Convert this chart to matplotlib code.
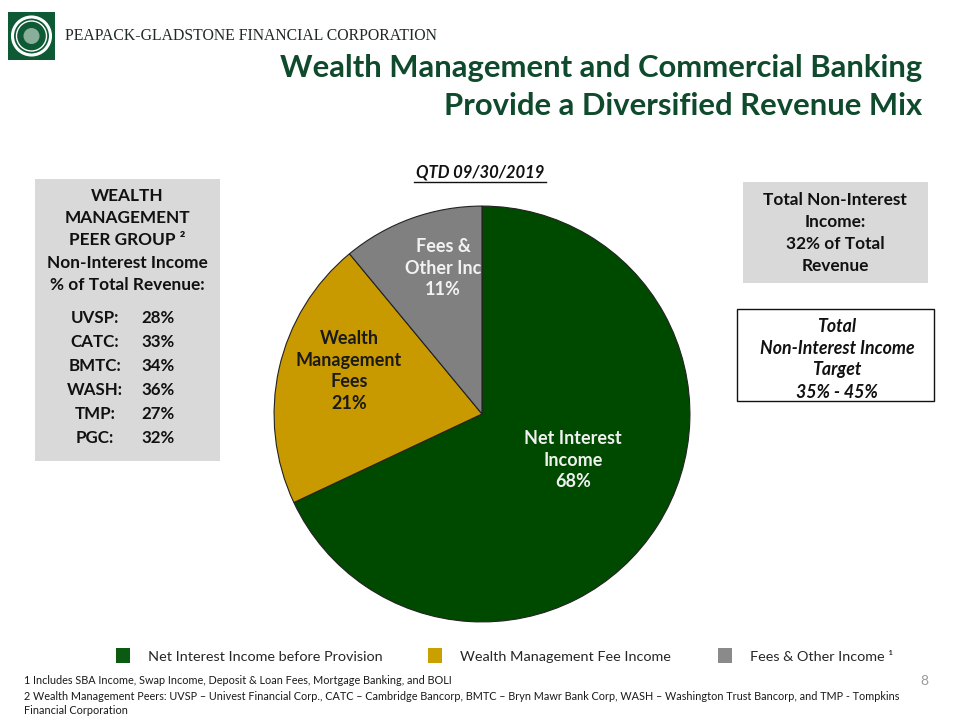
import matplotlib
matplotlib.use("Agg")
import matplotlib.pyplot as plt
from matplotlib.patches import Rectangle, Circle

# ---- data ----
slice_labels = ["Net Interest\nIncome\n68%", "Wealth\nManagement\nFees\n21%", "Fees &\nOther Inc\n11%"]
slice_values = [68, 21, 11]
slice_colors = ["#004A00", "#C99A00", "#808080"]
slice_text_colors = ["#F0F0F0", "#1A1A1A", "#F2F2F2"]
legend_labels = ["Net Interest Income before Provision", "Wealth Management Fee Income", "Fees & Other Income \u00b9"]
legend_colors = ["#0B5A12", "#C9A000", "#8A8A8A"]
peer_names = ["UVSP:", "CATC:", "BMTC:", "WASH:", "TMP:", "PGC:"]
peer_values = ["28%", "33%", "34%", "36%", "27%", "32%"]

FONT = "Lato"
plt.rcParams['font.family'] = [FONT, 'DejaVu Sans']

fig = plt.figure(figsize=(9.6, 7.2), dpi=100)
ax = fig.add_axes([0, 0, 1, 1])
ax.set_xlim(0, 960)
ax.set_ylim(720, 0)
ax.axis('off')

# ---- header / logo ----
ax.add_patch(Rectangle((8, 12), 47, 48, facecolor="#0E5A34", edgecolor="none"))
ax.add_patch(Circle((31.5, 36), 19, facecolor="none", edgecolor="white", lw=2.2))
ax.add_patch(Circle((31.5, 36), 15, facecolor="none", edgecolor="white", lw=1.0))
ax.add_patch(Circle((31.5, 36), 8, facecolor="#DDE8DF", edgecolor="none", alpha=0.6))
ax.text(65, 36, "PEAPACK-GLADSTONE FINANCIAL CORPORATION", family="Liberation Serif",
        fontsize=11.3, color="#1E2A22", ha="left", va="center")

title_color = "#0F4A2C"
ax.text(922, 68, "Wealth Management and Commercial Banking", fontsize=22.3, fontweight="bold",
        color=title_color, ha="right", va="center")
ax.text(922, 106, "Provide a Diversified Revenue Mix", fontsize=22.3, fontweight="bold",
        color=title_color, ha="right", va="center")

# ---- subtitle ----
ax.text(480, 172, "QTD 09/30/2019", fontsize=12, fontweight="bold", fontstyle="italic",
        color="#111111", ha="center", va="center")
ax.plot([414, 546], [182, 182], color="#111111", lw=1.0)

# ---- pie ----
pax = fig.add_axes([272 / 960, (720 - 624) / 720, 420 / 960, 420 / 720])
wedges, _ = pax.pie(slice_values, colors=slice_colors, startangle=90, counterclock=False,
                    radius=1.0, wedgeprops=dict(edgecolor="#222222", linewidth=0.8))
pax.set_xlim(-1.01, 1.01)
pax.set_ylim(-1.01, 1.01)
pax.set_aspect("equal")
pax.axis('off')

label_pos = [(573, 460), (349, 371), (443, 268)]
for lab, (x, y), c in zip(slice_labels, label_pos, slice_text_colors):
    ax.text(x, y, lab, fontsize=13, fontweight="bold", color=c, ha="center", va="center",
            linespacing=1.33, zorder=10)
ax.set_zorder(5)
ax.patch.set_alpha(0)

# ---- left peer box ----
ax.add_patch(Rectangle((35, 179), 185, 282, facecolor="#D9D9D9", edgecolor="none"))
hdr = ["WEALTH", "MANAGEMENT", "PEER GROUP \u00b2", "Non-Interest Income", "% of Total Revenue:"]
hdr_y = [196, 218, 240, 263, 285]
for t, y in zip(hdr, hdr_y):
    ax.text(127, y, t, fontsize=12.4, fontweight="bold", color="#111111", ha="center", va="center")
for i, (n, v) in enumerate(zip(peer_names, peer_values)):
    y = 318 + i * 24
    ax.text(95, y, n, fontsize=12.2, fontweight="bold", color="#111111", ha="center", va="center")
    ax.text(141, y, v, fontsize=12.2, fontweight="bold", color="#111111", ha="left", va="center")

# ---- right boxes ----
ax.add_patch(Rectangle((743, 182), 185, 101, facecolor="#D9D9D9", edgecolor="none"))
for t, y in zip(["Total Non-Interest", "Income:", "32% of Total", "Revenue"], [200, 222, 244, 266]):
    ax.text(835, y, t, fontsize=12.4, fontweight="bold", color="#111111", ha="center", va="center")

ax.add_patch(Rectangle((737, 309), 197, 92, facecolor="white", edgecolor="#111111", lw=1.0))
for t, y in zip(["Total", "Non-Interest Income", "Target", "35% - 45%"], [326, 348, 370, 393]):
    ax.text(837, y, t, fontsize=12.8, fontweight="bold", fontstyle="italic", color="#111111",
            ha="center", va="center")

# ---- legend ----
leg_x = [116, 428, 718]
for x, lab, c in zip(leg_x, legend_labels, legend_colors):
    ax.add_patch(Rectangle((x, 648), 14, 15, facecolor=c, edgecolor="none"))
    ax.text(x + 32, 657, lab, fontsize=10.4, color="#262626", ha="left", va="center")

# ---- footnotes ----
foot = ["1 Includes SBA Income, Swap Income, Deposit & Loan Fees, Mortgage Banking, and BOLI",
        "2 Wealth Management Peers: UVSP \u2013 Univest Financial Corp., CATC \u2013 Cambridge Bancorp, BMTC \u2013 Bryn Mawr Bank Corp, WASH \u2013 Washington Trust Bancorp, and TMP - Tompkins",
        "Financial Corporation"]
for t, y in zip(foot, [681, 697, 711]):
    ax.text(24, y, t, fontsize=7.8, color="#1A1A1A", ha="left", va="center")
ax.text(924, 681, "8", fontsize=10, color="#9A9A9A", ha="center", va="center")

fig.savefig("out.png", dpi=100)
